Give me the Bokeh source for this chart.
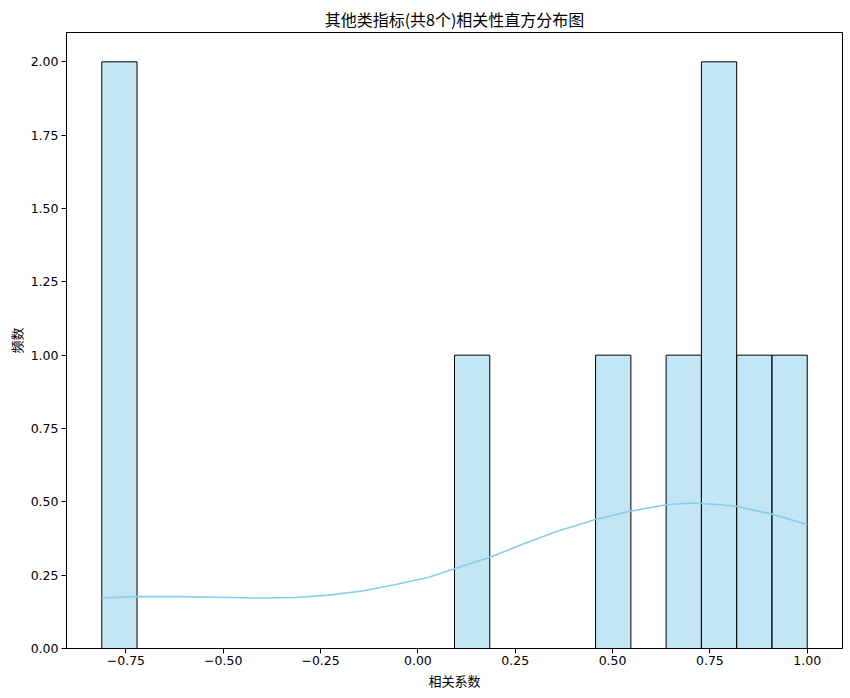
import numpy as np
from bokeh.plotting import figure
from bokeh.models import Range1d, FixedTicker, ColumnDataSource
from bokeh.embed import file_html
from bokeh.resources import INLINE

# ---- data ----
title_text = "其他类指标(共8个)相关性直方分布图"
x_label = "相关系数"
y_label = "频数"

hist_min = -0.812
hist_max = 1.0
bin_counts = [2, 0, 0, 0, 0, 0, 0, 0, 0, 0, 1, 0, 0, 0, 1, 0, 1, 2, 1, 1]

kde_x = [-0.812, -0.725, -0.614, -0.486, -0.400, -0.314, -0.229, -0.143, -0.057, 0.028,
         0.090, 0.185, 0.272, 0.358, 0.454, 0.545, 0.638, 0.709, 0.769, 0.817, 0.907, 1.0]
kde_y = [0.172, 0.177, 0.177, 0.174, 0.172, 0.174, 0.182, 0.196, 0.218, 0.243,
         0.270, 0.311, 0.357, 0.400, 0.439, 0.468, 0.490, 0.496, 0.491, 0.485, 0.459, 0.423]

x_ticks = [-0.75, -0.5, -0.25, 0.0, 0.25, 0.5, 0.75, 1.0]
x_tick_labels = ["−0.75", "−0.50", "−0.25", "0.00", "0.25", "0.50", "0.75", "1.00"]
y_ticks = [0.0, 0.25, 0.5, 0.75, 1.0, 1.25, 1.5, 1.75, 2.0]
y_tick_labels = ["0.00", "0.25", "0.50", "0.75", "1.00", "1.25", "1.50", "1.75", "2.00"]

# ---- build ----
edges = np.linspace(hist_min, hist_max, len(bin_counts) + 1)
left, right, top = [], [], []
for i, c in enumerate(bin_counts):
    if c > 0:
        left.append(edges[i]); right.append(edges[i + 1]); top.append(c)
src = ColumnDataSource(dict(left=left, right=right, top=top, bottom=[0] * len(top)))

span = hist_max - hist_min
FONT = "Noto Sans CJK SC"
NUM_FONT = "DejaVu Sans"

p = figure(width=848, height=696, output_backend="svg", toolbar_location=None,
           x_range=Range1d(hist_min - 0.05 * span, hist_max + 0.05 * span),
           y_range=Range1d(0, 2.1),
           min_border_left=66, min_border_right=6, min_border_top=32, min_border_bottom=48)

p.quad(left="left", right="right", top="top", bottom="bottom", source=src,
       fill_color="#87CEEB", fill_alpha=0.5, line_color="black", line_width=1)
p.line(kde_x, kde_y, line_color="#87CEEB", line_width=1.6, line_join="round")

p.title.text = title_text
p.title.align = "center"
p.title.text_font = FONT
p.title.text_font_size = "16px"
p.title.text_font_style = "normal"
p.title.text_color = "black"
p.title.standoff = 4

p.xgrid.visible = False
p.ygrid.visible = False
p.outline_line_color = "black"
p.outline_line_width = 1
p.outline_line_alpha = 1

p.xaxis.ticker = FixedTicker(ticks=x_ticks)
p.xaxis.major_label_overrides = {t: l for t, l in zip(x_ticks, x_tick_labels)}
p.yaxis.ticker = FixedTicker(ticks=y_ticks)
p.yaxis.major_label_overrides = {t: l for t, l in zip(y_ticks, y_tick_labels)}

for ax in (p.xaxis[0], p.yaxis[0]):
    ax.axis_line_color = "black"
    ax.major_tick_line_color = "black"
    ax.major_tick_in = 0
    ax.major_tick_out = 5
    ax.minor_tick_line_color = None
    ax.major_label_text_font = NUM_FONT
    ax.major_label_text_font_size = "12.5px"
    ax.major_label_text_color = "black"
    ax.axis_label_text_font = FONT
    ax.axis_label_text_font_size = "13px"
    ax.axis_label_text_font_style = "normal"
    ax.axis_label_text_color = "black"

p.xaxis.major_label_standoff = 2
p.xaxis.axis_label_standoff = 3
p.yaxis.major_label_standoff = 3
p.yaxis.axis_label_standoff = 2

p.xaxis.axis_label = x_label
p.yaxis.axis_label = y_label

open("out.html", "w").write(file_html(p, INLINE))
